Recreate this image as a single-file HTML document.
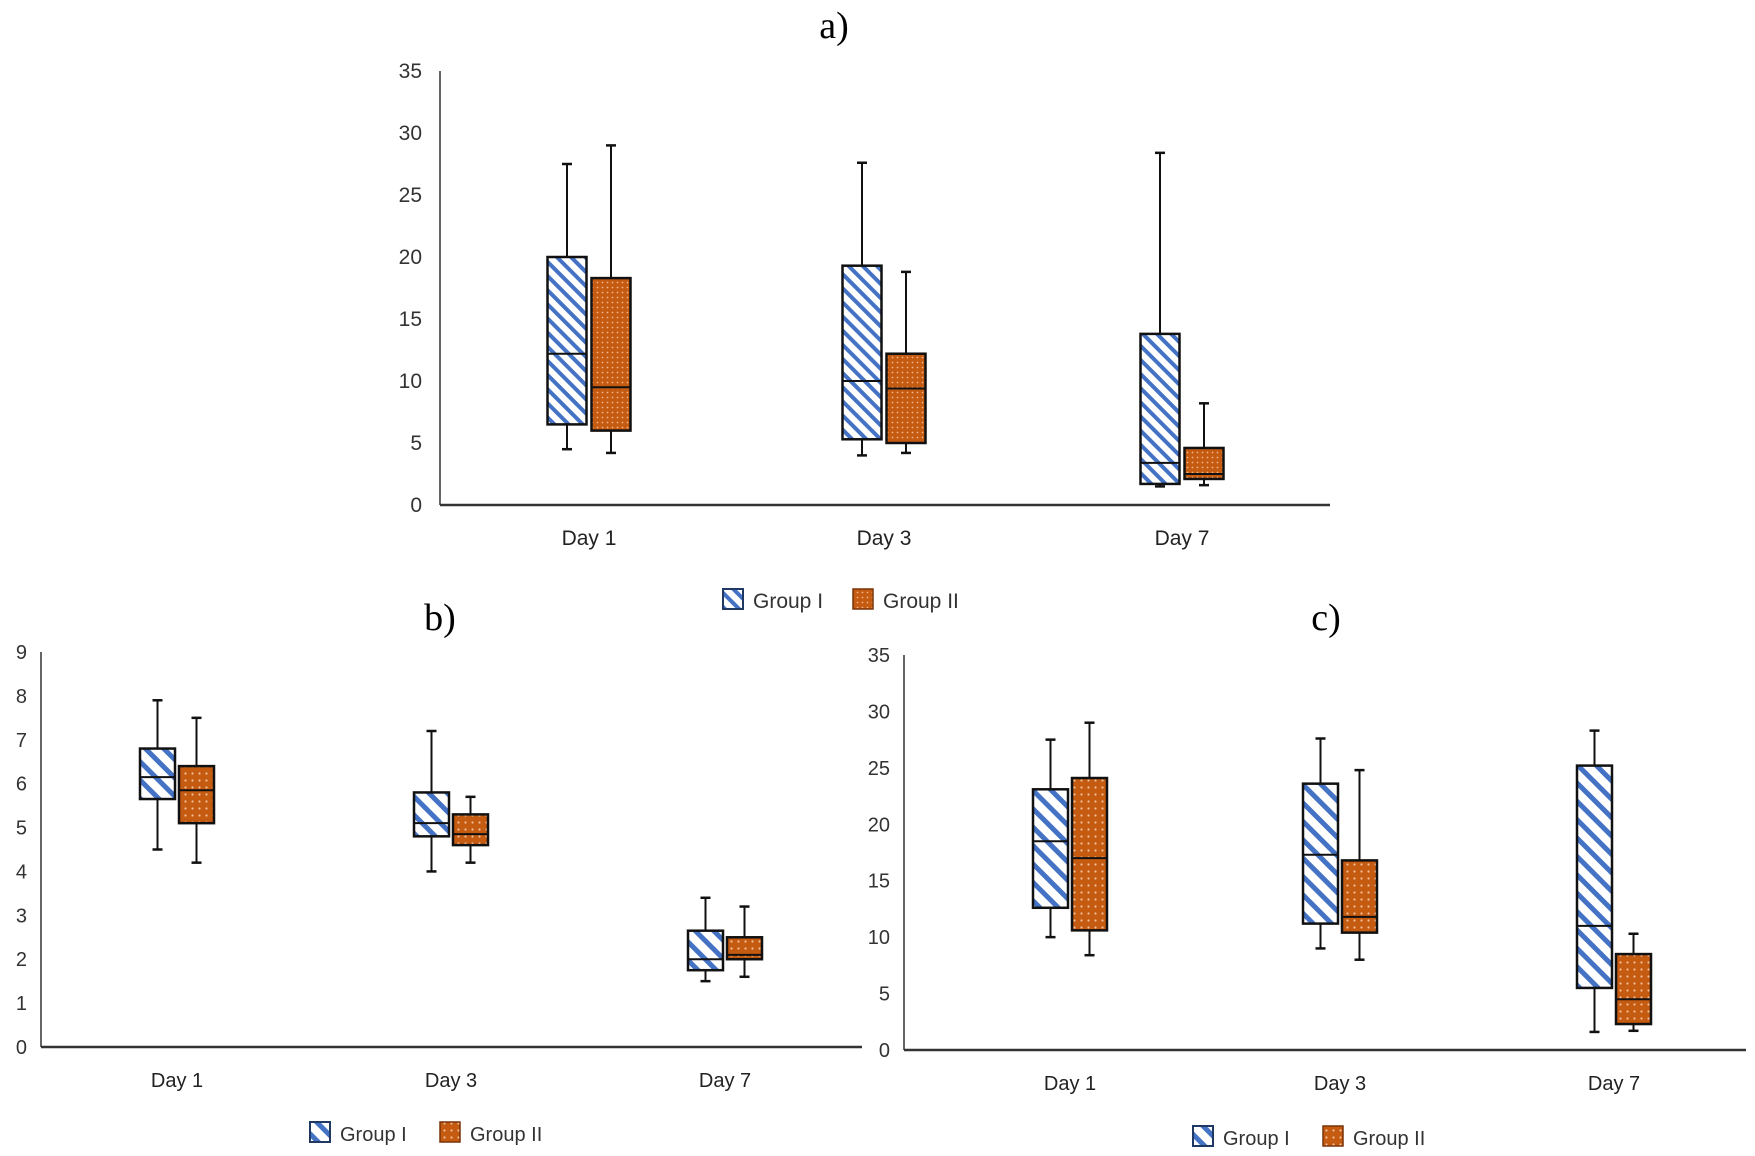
<!DOCTYPE html>
<html><head><meta charset="utf-8"><style>
body{margin:0;background:#fff;}
svg{display:block;font-family:"Liberation Sans",sans-serif;}
</style></head><body>
<svg id="fig" width="1755" height="1156" viewBox="0 0 1755 1156" xmlns="http://www.w3.org/2000/svg">
<defs>
<pattern id="stripe" width="10" height="10" patternUnits="userSpaceOnUse" patternTransform="rotate(-45)">
<rect width="10" height="10" fill="#fff"/><rect x="0" y="0" width="4" height="10" fill="#4472C4"/></pattern>
<pattern id="stripeB" width="13" height="13" patternUnits="userSpaceOnUse" patternTransform="rotate(-45)">
<rect width="13" height="13" fill="#fff"/><rect x="0" y="0" width="5" height="13" fill="#4472C4"/></pattern>
<pattern id="dots" width="5" height="5" patternUnits="userSpaceOnUse">
<rect width="5" height="5" fill="#C55A11"/><circle cx="2.5" cy="2.5" r="0.9" fill="#F2B48A"/></pattern>
<pattern id="dotsB" width="7" height="7" patternUnits="userSpaceOnUse">
<rect width="7" height="7" fill="#C55A11"/><circle cx="3.5" cy="3.5" r="1.1" fill="#F2C09A"/></pattern>
</defs>
<text x="834" y="38" font-family="Liberation Serif,serif" font-size="38" text-anchor="middle">a)</text>
<text x="440" y="630" font-family="Liberation Serif,serif" font-size="38" text-anchor="middle">b)</text>
<text x="1326" y="630" font-family="Liberation Serif,serif" font-size="38" text-anchor="middle">c)</text>
</svg>
<script>
const categories = ["Day 1","Day 3","Day 7"];
// [min, q1, median, q3, max]
const aGroup1 = [[4.5,6.5,12.2,20,27.5],[4.0,5.3,10.0,19.3,27.6],[1.5,1.7,3.4,13.8,28.4]];
const aGroup2 = [[4.2,6.0,9.5,18.3,29],[4.2,5.0,9.4,12.2,18.8],[1.6,2.1,2.5,4.6,8.2]];
const bGroup1 = [[4.5,5.65,6.15,6.8,7.9],[4.0,4.8,5.1,5.8,7.2],[1.5,1.75,2.0,2.65,3.4]];
const bGroup2 = [[4.2,5.1,5.85,6.4,7.5],[4.2,4.6,4.85,5.3,5.7],[1.6,2.0,2.1,2.5,3.2]];
const cGroup1 = [[10,12.6,18.5,23.1,27.5],[9,11.2,17.3,23.6,27.6],[1.6,5.5,11,25.2,28.3]];
const cGroup2 = [[8.4,10.6,17,24.1,29],[8,10.4,11.8,16.8,24.8],[1.7,2.3,4.5,8.5,10.3]];
const ticks35 = [0,5,10,15,20,25,30,35];
const ticks9 = [0,1,2,3,4,5,6,7,8,9];

const NS="http://www.w3.org/2000/svg";
const svg=document.getElementById('fig');
function mk(tag,attrs,parent){const e=document.createElementNS(NS,tag);for(const k in attrs)e.setAttribute(k,attrs[k]);(parent||svg).appendChild(e);return e;}

function chart(id,cfg,g1,g2,ticks){
  const g=mk('g',{});
  
  
  const ymax=ticks[ticks.length-1];
  const y=v=>cfg.y0-(cfg.y0-cfg.yTop)*v/ymax;
  const xc=i=>cfg.centers[i];
  ticks.forEach(t=>{
    const tl=mk('text',{x:cfg.x0-cfg.lblOff,y:y(t)+7,'font-size':cfg.fs,'text-anchor':'end',fill:'#333'},g);
    tl.textContent=t;
    
    
  });
  const ya=mk('line',{x1:cfg.x0,y1:cfg.yTop,x2:cfg.x0,y2:cfg.y0,stroke:'#333','stroke-width':1.5},g);
  
  
  const xa=mk('line',{x1:cfg.x0,y1:cfg.y0,x2:cfg.x1,y2:cfg.y0,stroke:'#333','stroke-width':2.5},g);
  
  
  categories.forEach((c,i)=>{
    const t=mk('text',{x:xc(i),y:cfg.y0+40,'font-size':cfg.fs,'text-anchor':'middle',fill:'#222'},g);
    t.textContent=c;
    
    
  });
  const w=cfg.bw, gap=cfg.gap;
  [[g1,cfg.p1,-1],[g2,cfg.p2,1]].forEach(([data,fill,side])=>{
    data.forEach((d,i)=>{
      const left= side<0 ? xc(i)-gap/2-w : xc(i)+gap/2;
      const cx=left+w/2;
      const bg=mk('g',{},g);
      
      
      mk('line',{x1:cx,y1:y(d[0]),x2:cx,y2:y(d[4]),stroke:'#111','stroke-width':2},bg);
      mk('line',{x1:cx-5,y1:y(d[0]),x2:cx+5,y2:y(d[0]),stroke:'#111','stroke-width':2.5},bg);
      mk('line',{x1:cx-5,y1:y(d[4]),x2:cx+5,y2:y(d[4]),stroke:'#111','stroke-width':2.5},bg);
      mk('rect',{x:left,y:y(d[3]),width:w,height:y(d[1])-y(d[3]),fill:`url(#${fill})`,stroke:'#111','stroke-width':2.5},bg);
      mk('line',{x1:left,y1:y(d[2]),x2:left+w,y2:y(d[2]),stroke:'#111','stroke-width':2},bg);
    });
  });
  // legend
  const lg=mk('g',{},g);
  
  
  const lx=cfg.leg[0], ly=cfg.leg[1];
  mk('rect',{x:lx,y:ly-11,width:20,height:20,fill:`url(#${cfg.p1})`,stroke:'#1F3864','stroke-width':2},lg);
  let t=mk('text',{x:lx+30,y:ly+8,'font-size':cfg.fs,fill:'#333'},lg); t.textContent='Group I';
  mk('rect',{x:lx+130,y:ly-11,width:20,height:20,fill:`url(#${cfg.p2})`,stroke:'#7a3409','stroke-width':1.5},lg);
  t=mk('text',{x:lx+160,y:ly+8,'font-size':cfg.fs,fill:'#333'},lg); t.textContent='Group II';
}
chart('chart-a',{x0:440,x1:1330,y0:505,yTop:71,centers:[589,884,1182],bw:39,gap:5,lblOff:18,fs:21,p1:'stripe',p2:'dots',leg:[723,600]},aGroup1,aGroup2,ticks35);
chart('chart-b',{x0:41,x1:862,y0:1047,yTop:652,centers:[177,451,725],bw:35,gap:4,lblOff:14,fs:20,p1:'stripeB',p2:'dotsB',leg:[310,1133]},bGroup1,bGroup2,ticks9);
chart('chart-c',{x0:904,x1:1746,y0:1050,yTop:655,centers:[1070,1340,1614],bw:35,gap:4,lblOff:14,fs:20,p1:'stripeB',p2:'dotsB',leg:[1193,1137]},cGroup1,cGroup2,ticks35);
</script>
</body></html>
